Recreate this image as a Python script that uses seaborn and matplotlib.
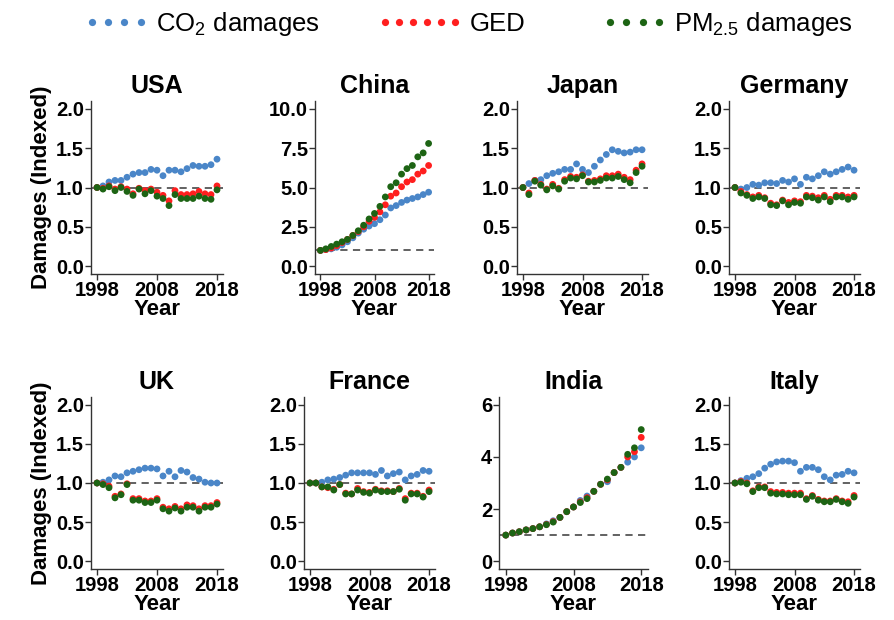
import matplotlib
matplotlib.use('Agg')
import matplotlib.pyplot as plt
from matplotlib.lines import Line2D
import numpy as np
import pandas as pd
import seaborn as sns

sns.set_style('ticks')
plt.rcParams['font.family'] = ['Liberation Sans', 'DejaVu Sans']
plt.rcParams['mathtext.fontset'] = 'custom'
plt.rcParams['mathtext.rm'] = 'Liberation Sans'
plt.rcParams['mathtext.default'] = 'rm'
for k in ['text.color', 'axes.labelcolor', 'xtick.color', 'ytick.color']:
    plt.rcParams[k] = 'black'

years = list(range(1998, 2019))
countries = ['USA', 'China', 'Japan', 'Germany', 'UK', 'France', 'India', 'Italy']
series = ['CO2 damages', 'GED', 'PM2.5 damages']
legend_labels = ['CO$_2$ damages', 'GED', 'PM$_{2.5}$ damages']
colors = {'CO2 damages': '#4a86c8', 'GED': '#ff1f1f', 'PM2.5 damages': '#1d6414'}

usa_co2 = [1.00, 1.02, 1.07, 1.09, 1.09, 1.13, 1.17, 1.19, 1.19, 1.23, 1.22, 1.15, 1.22, 1.22, 1.20, 1.24, 1.28, 1.27, 1.27, 1.29, 1.36]
usa_ged = [1.00, 0.99, 1.02, 0.98, 1.01, 0.98, 0.92, 0.99, 0.96, 0.98, 0.94, 0.90, 0.83, 0.96, 0.91, 0.91, 0.92, 0.95, 0.92, 0.91, 1.02]
usa_pm = [1.00, 0.98, 1.01, 0.96, 1.00, 0.95, 0.90, 0.98, 0.92, 0.96, 0.89, 0.86, 0.77, 0.91, 0.86, 0.86, 0.86, 0.89, 0.86, 0.85, 0.97]

china_co2 = [1.00, 1.05, 1.10, 1.20, 1.35, 1.55, 1.80, 2.10, 2.35, 2.55, 2.70, 2.95, 3.25, 3.70, 3.85, 4.05, 4.20, 4.30, 4.40, 4.55, 4.70]
china_ged = [1.00, 1.05, 1.15, 1.30, 1.50, 1.70, 1.95, 2.20, 2.50, 2.85, 3.10, 3.45, 3.90, 4.45, 4.65, 5.05, 5.35, 5.50, 5.85, 6.05, 6.40]
china_pm = [1.00, 1.10, 1.25, 1.40, 1.55, 1.70, 1.95, 2.25, 2.60, 3.00, 3.35, 3.80, 4.40, 5.05, 5.30, 5.85, 6.20, 6.40, 6.95, 7.20, 7.80]

japan_co2 = [1.00, 1.05, 1.09, 1.10, 1.15, 1.18, 1.20, 1.23, 1.23, 1.30, 1.23, 1.19, 1.27, 1.35, 1.42, 1.48, 1.46, 1.44, 1.45, 1.48, 1.48]
japan_ged = [1.00, 0.93, 1.09, 1.04, 0.98, 1.04, 0.99, 1.10, 1.14, 1.13, 1.16, 1.08, 1.09, 1.11, 1.15, 1.15, 1.17, 1.13, 1.10, 1.22, 1.30]
japan_pm = [1.00, 0.91, 1.08, 1.03, 0.97, 1.02, 0.98, 1.08, 1.12, 1.11, 1.15, 1.07, 1.07, 1.09, 1.12, 1.12, 1.14, 1.10, 1.06, 1.19, 1.27]

germany_co2 = [1.00, 0.98, 1.00, 1.04, 1.03, 1.06, 1.06, 1.05, 1.09, 1.07, 1.11, 1.04, 1.13, 1.11, 1.15, 1.20, 1.17, 1.20, 1.23, 1.26, 1.22]
germany_ged = [1.00, 0.95, 0.91, 0.88, 0.90, 0.87, 0.80, 0.78, 0.84, 0.81, 0.83, 0.82, 0.90, 0.89, 0.87, 0.90, 0.85, 0.90, 0.90, 0.88, 0.90]
germany_pm = [1.00, 0.93, 0.90, 0.86, 0.88, 0.86, 0.78, 0.77, 0.83, 0.78, 0.81, 0.80, 0.88, 0.87, 0.84, 0.88, 0.82, 0.88, 0.88, 0.85, 0.88]

uk_co2 = [1.00, 1.01, 1.04, 1.09, 1.08, 1.13, 1.15, 1.17, 1.19, 1.19, 1.18, 1.09, 1.15, 1.08, 1.16, 1.14, 1.07, 1.05, 1.01, 1.00, 1.00]
uk_ged = [1.00, 0.99, 0.96, 0.83, 0.86, 0.99, 0.80, 0.80, 0.77, 0.77, 0.80, 0.69, 0.67, 0.70, 0.67, 0.72, 0.71, 0.67, 0.71, 0.71, 0.75]
uk_pm = [1.00, 0.98, 0.94, 0.81, 0.85, 0.98, 0.78, 0.78, 0.75, 0.75, 0.78, 0.67, 0.64, 0.68, 0.64, 0.69, 0.69, 0.64, 0.69, 0.69, 0.73]

france_co2 = [1.00, 1.00, 1.01, 1.04, 1.05, 1.07, 1.10, 1.13, 1.13, 1.13, 1.13, 1.11, 1.16, 1.09, 1.12, 1.14, 1.04, 1.09, 1.11, 1.16, 1.15]
france_ged = [1.00, 1.00, 0.95, 0.94, 0.92, 0.98, 0.87, 0.86, 0.93, 0.89, 0.88, 0.92, 0.90, 0.90, 0.89, 0.93, 0.80, 0.87, 0.87, 0.83, 0.91]
france_pm = [1.00, 1.00, 0.95, 0.95, 0.91, 0.98, 0.86, 0.86, 0.91, 0.88, 0.87, 0.91, 0.89, 0.89, 0.89, 0.92, 0.78, 0.86, 0.86, 0.82, 0.89]

india_co2 = [1.00, 1.08, 1.13, 1.20, 1.25, 1.32, 1.43, 1.55, 1.68, 1.90, 2.08, 2.33, 2.50, 2.68, 2.95, 3.05, 3.40, 3.60, 3.80, 4.00, 4.35]
india_ged = [1.00, 1.08, 1.13, 1.20, 1.25, 1.32, 1.41, 1.52, 1.68, 1.90, 2.08, 2.28, 2.44, 2.68, 2.95, 3.12, 3.40, 3.60, 4.00, 4.20, 4.75]
india_pm = [1.00, 1.08, 1.13, 1.20, 1.25, 1.32, 1.40, 1.50, 1.68, 1.90, 2.08, 2.25, 2.40, 2.68, 2.95, 3.15, 3.40, 3.60, 4.10, 4.35, 5.05]

italy_co2 = [1.00, 1.03, 1.06, 1.08, 1.12, 1.19, 1.24, 1.27, 1.28, 1.28, 1.26, 1.15, 1.20, 1.20, 1.17, 1.08, 1.04, 1.10, 1.11, 1.15, 1.13]
italy_ged = [1.00, 1.02, 1.00, 0.90, 0.95, 0.95, 0.89, 0.88, 0.88, 0.87, 0.87, 0.87, 0.80, 0.84, 0.79, 0.77, 0.77, 0.80, 0.77, 0.76, 0.84]
italy_pm = [1.00, 1.01, 0.99, 0.89, 0.94, 0.94, 0.87, 0.86, 0.86, 0.85, 0.85, 0.85, 0.79, 0.83, 0.78, 0.76, 0.76, 0.79, 0.76, 0.74, 0.82]

values = {
    'USA': [usa_co2, usa_ged, usa_pm],
    'China': [china_co2, china_ged, china_pm],
    'Japan': [japan_co2, japan_ged, japan_pm],
    'Germany': [germany_co2, germany_ged, germany_pm],
    'UK': [uk_co2, uk_ged, uk_pm],
    'France': [france_co2, france_ged, france_pm],
    'India': [india_co2, india_ged, india_pm],
    'Italy': [italy_co2, italy_ged, italy_pm],
}

rows = []
for c in countries:
    for s, vals in zip(series, values[c]):
        for y, v in zip(years, vals):
            rows.append((c, s, y, v))
df = pd.DataFrame(rows, columns=['country', 'series', 'year', 'value'])

# y ticks per panel
yticks = {c: [0.0, 0.5, 1.0, 1.5, 2.0] for c in countries}
yticks['China'] = [0.0, 2.5, 5.0, 7.5, 10.0]
yticks['India'] = [0, 2, 4, 6]
ytick_labels = {c: ['%.1f' % t for t in yticks[c]] for c in countries}
ytick_labels['India'] = ['0', '2', '4', '6']

W, H = 895, 620
# panel boxes in pixels: left, right, top, bottom
boxes = {
    'USA': (91, 223, 101, 274), 'China': (315, 434, 101, 274),
    'Japan': (517, 648, 101, 274), 'Germany': (729, 860, 101, 274),
    'UK': (91, 223, 397, 569), 'France': (304, 435, 397, 569),
    'India': (499, 648, 397, 569), 'Italy': (729, 860, 397, 569),
}

fig = plt.figure(figsize=(W / 100, H / 100), dpi=100)

for c in countries:
    l, r, t, b = boxes[c]
    ax = fig.add_axes([l / W, 1 - b / H, (r - l) / W, (b - t) / H])
    sub = df[df['country'] == c]
    ax.axhline(1, color='#555555', lw=1.3, ls=(0, (4, 3)), zorder=1)
    sns.scatterplot(data=sub, x='year', y='value', hue='series', hue_order=series,
                    palette=colors, s=24, linewidth=0, legend=False, ax=ax, zorder=3)
    lo, hi = yticks[c][0], yticks[c][-1]
    pad = (hi - lo) * 0.05
    ax.set_ylim(lo - pad, hi + pad)
    ax.set_xlim(1997, 2019)
    ax.set_yticks(yticks[c])
    ax.set_yticklabels(ytick_labels[c])
    ax.set_xticks([1998, 2008, 2018])
    ax.tick_params(labelsize=14.5, length=4, width=1, color='#333333', pad=1)
    for lab in ax.get_xticklabels() + ax.get_yticklabels():
        lab.set_fontweight('bold')
    sns.despine(ax=ax)
    for sp in ['left', 'bottom']:
        ax.spines[sp].set_color('#333333')
        ax.spines[sp].set_linewidth(1)
    ax.set_title(c, fontsize=18, fontweight='bold', pad=6)
    ax.set_xlabel('Year', fontsize=16, fontweight='bold', labelpad=-1)
    if c in ('USA', 'UK'):
        ax.set_ylabel('Damages (Indexed)', fontsize=16, fontweight='bold', labelpad=3)
    else:
        ax.set_ylabel('')

# legend: one entry per series so each key can have its own width
legend_x = [0.094, 0.422, 0.673]
key_len = [2.5, 3.3, 2.5]
for s, lab, x0, kl in zip(series, legend_labels, legend_x, key_len):
    h = Line2D([], [], ls='none', marker='o', markersize=5.2, markeredgewidth=0,
               color=colors[s])
    fig.legend([h], [lab], loc='center left', bbox_to_anchor=(x0, 0.962),
               frameon=False, fontsize=18.5, numpoints=6 if s == 'GED' else 4,
               handlelength=kl, handletextpad=0.3, borderpad=0, borderaxespad=0)

fig.savefig('out.png', dpi=100)
